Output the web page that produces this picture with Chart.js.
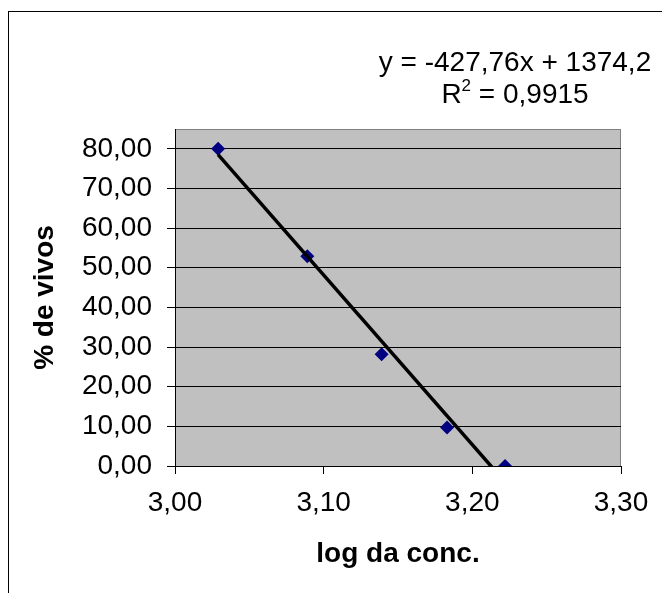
<!DOCTYPE html>
<html>
<head>
<meta charset="utf-8">
<script src="https://cdn.jsdelivr.net/npm/chart.js@4/dist/chart.umd.min.js"></script>
<style>
  html, body { margin: 0; padding: 0; background: #fff; }
  canvas { display: block; }
</style>
</head>
<body>
<canvas id="chart" width="662" height="593"></canvas>
<script>
// data
const logConc = [3.029, 3.089, 3.139, 3.183, 3.222];
const pctAlive = [80.0, 52.9, 28.2, 9.7, 0.0];

const xTicks = [3.0, 3.1, 3.2, 3.3];
const yTicks = [0, 10, 20, 30, 40, 50, 60, 70, 80];

// trendline, as printed on the chart
const slope = -427.76;
const intercept = 1374.2;
const equationText = 'y = -427,76x + 1374,2';
const r2Text = ' = 0,9915';

const FONT = '"Liberation Sans", Arial, sans-serif';

function fmt(v) {
    return v.toFixed(2).replace('.', ',');
}

const xMin = Math.min(...logConc);
const xMax = Math.max(...logConc);
const trend = [
    { x: xMin, y: slope * xMin + intercept },
    { x: xMax, y: slope * xMax + intercept },
];

const frame = {
    id: 'frame',
    beforeDraw(chart) {
        const ctx = chart.ctx;
        const a = chart.chartArea;
        ctx.save();
        ctx.strokeStyle = '#000';
        ctx.lineWidth = 1;
        ctx.strokeRect(8.5, 11.5, 800, 800);
        ctx.fillStyle = '#c0c0c0';
        ctx.fillRect(a.left, a.top, a.right - a.left, a.bottom - a.top);
        ctx.strokeStyle = '#808080';
        ctx.strokeRect(a.left + 0.5, a.top + 0.5, a.right - a.left - 1, a.bottom - a.top);
        ctx.restore();
    },
    afterDraw(chart) {
        const ctx = chart.ctx;
        const cx = 515;
        ctx.save();
        ctx.fillStyle = '#000';
        ctx.textBaseline = 'alphabetic';
        ctx.textAlign = 'left';
        ctx.font = '28px ' + FONT;
        let w = ctx.measureText(equationText).width;
        ctx.fillText(equationText, cx - w / 2, 71);

        const wR = ctx.measureText('R').width;
        const wRest = ctx.measureText(r2Text).width;
        ctx.font = '17px ' + FONT;
        const w2 = ctx.measureText('2').width;
        let x = cx - (wR + w2 + wRest) / 2;
        ctx.font = '28px ' + FONT;
        ctx.fillText('R', x, 103);
        ctx.font = '17px ' + FONT;
        ctx.fillText('2', x + wR, 91);
        ctx.font = '28px ' + FONT;
        ctx.fillText(r2Text, x + wR + w2, 103);
        ctx.restore();
    }
};

new Chart(document.getElementById('chart'), {
    type: 'scatter',
    data: {
        datasets: [{
            type: 'line',
            label: 'trend',
            data: trend,
            borderColor: '#000',
            borderWidth: 3.5,
            pointRadius: 0,
            fill: false,
            clip: 0,
            order: 0,
        }, {
            label: '% de vivos',
            data: logConc.map((x, i) => ({ x: x, y: pctAlive[i] })),
            pointStyle: 'rectRot',
            pointRadius: 7,
            pointBackgroundColor: '#000080',
            pointBorderColor: '#000080',
            pointBorderWidth: 0,
            showLine: false,
            order: 1,
        }],
    },
    options: {
        responsive: false,
        animation: false,
        devicePixelRatio: 1,
        layout: {
            padding: { left: 8, top: 129, right: 41, bottom: 0 },
        },
        plugins: {
            legend: { display: false },
            tooltip: { enabled: false },
        },
        scales: {
            x: {
                type: 'linear',
                min: 3.0,
                max: 3.3,
                afterBuildTicks: (scale) => { scale.ticks = xTicks.map(v => ({ value: v })); },
                afterFit: (scale) => { scale.height = 127; },
                grid: {
                    color: 'rgba(0,0,0,0)',
                    tickColor: '#000',
                    tickLength: 8,
                },
                border: { color: '#000', width: 1 },
                ticks: {
                    color: '#000',
                    padding: 12,
                    maxRotation: 0,
                    font: { family: FONT, size: 28 },
                    callback: (v) => fmt(v),
                },
                title: {
                    display: true,
                    text: 'log da conc.',
                    color: '#000',
                    padding: { top: 0, bottom: 22 },
                    font: { family: FONT, size: 28, weight: 'bold' },
                },
            },
            y: {
                min: 0,
                max: 85,
                afterBuildTicks: (scale) => { scale.ticks = yTicks.map(v => ({ value: v })); },
                afterFit: (scale) => { scale.width = 167; },
                grid: {
                    color: '#000',
                    tickColor: '#000',
                    tickLength: 8,
                },
                border: { color: '#000', width: 1 },
                ticks: {
                    color: '#000',
                    padding: 15,
                    font: { family: FONT, size: 28 },
                    callback: (v) => fmt(v),
                },
                title: {
                    display: true,
                    text: '% de vivos',
                    color: '#000',
                    padding: { top: 20, bottom: 0 },
                    font: { family: FONT, size: 28, weight: 'bold' },
                },
            },
        },
    },
    plugins: [frame],
});
</script>
</body>
</html>
